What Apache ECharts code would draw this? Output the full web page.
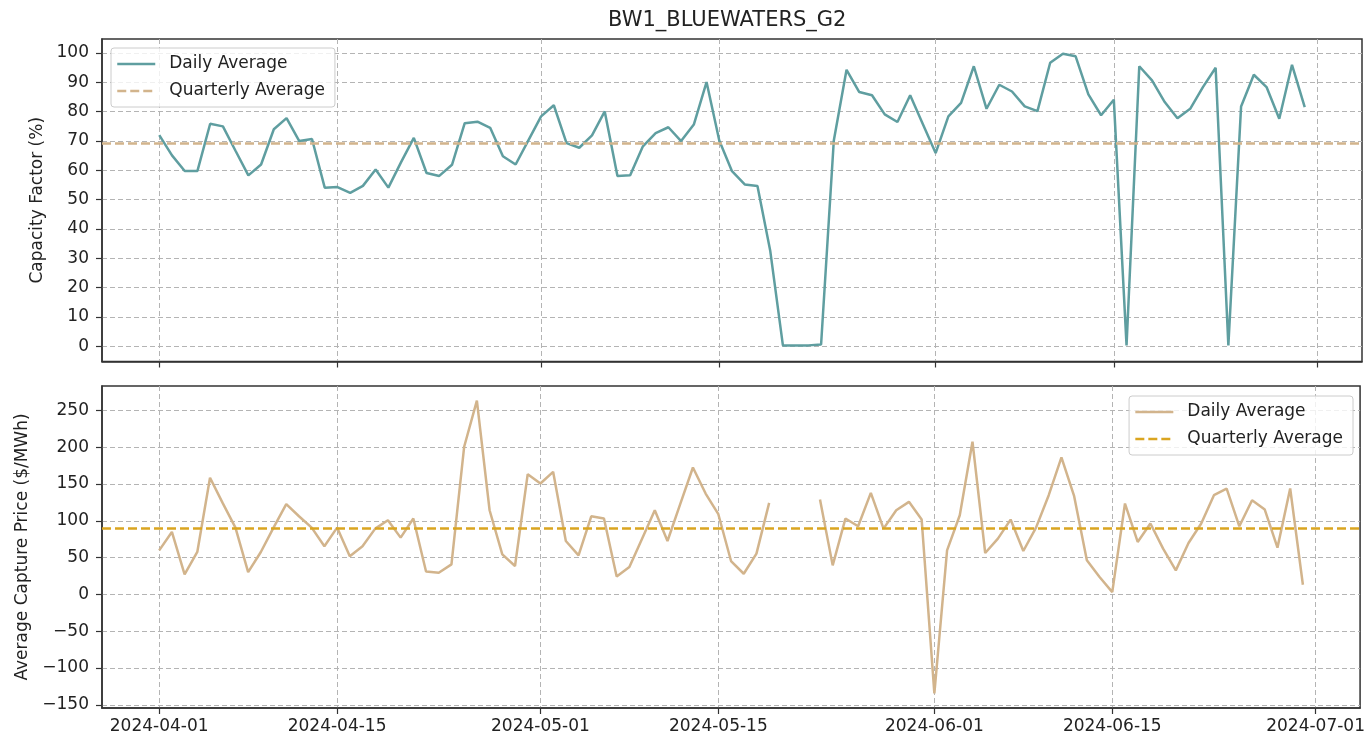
<!DOCTYPE html>
<html>
<head>
<meta charset="utf-8">
<title>BW1_BLUEWATERS_G2</title>
<script src="https://cdn.jsdelivr.net/npm/echarts@6/dist/echarts.min.js"></script>
<style>
    html, body { margin: 0; padding: 0; background: #ffffff; }
    #chart { width: 1368px; height: 738px; }
</style>
</head>
<body>
<div id="chart"></div>
<script>
// daily values, one per day starting at startDate
var startDate = '2024-04-01';
var dayCount = 91;

var capacityDaily = [
    72.0, 65.1, 59.8, 59.8, 75.9, 75.0, 66.6, 58.3, 62.0, 74.0,
    77.8, 70.0, 70.7, 54.1, 54.3, 52.3, 54.7, 60.3, 54.1, 62.8,
    71.1, 59.1, 58.1, 61.9, 76.1, 76.6, 74.5, 64.8, 62.0, 70.2,
    78.4, 82.2, 69.3, 67.7, 71.9, 80.1, 58.1, 58.3, 68.2, 72.7,
    74.7, 70.0, 75.6, 90.1, 70.2, 59.7, 55.2, 54.7, 32.7, 0.3,
    0.3, 0.3, 0.6, 70.2, 94.3, 86.7, 85.6, 79.1, 76.5, 85.6,
    75.7, 65.9, 78.4, 83.0, 95.5, 81.0, 89.2, 86.9, 81.8, 80.2,
    96.7, 99.8, 98.9, 85.9, 78.8, 84.1, 0.3, 95.5, 90.7, 83.3,
    77.8, 81.0, 88.4, 95.0, 0.3, 81.8, 92.6, 88.4, 77.6, 96.0,
    81.6
];
var capacityQuarterly = 69.3;

var priceDaily = [
    59.9, 84.9, 27.2, 57.7, 158.5, 124.0, 90.8, 30.4, 57.7, 90.8,
    122.6, 106.2, 90.8, 65.4, 90.8, 51.8, 65.4, 89.4, 100.8, 77.2,
    103.1, 31.1, 29.5, 40.9, 200.7, 263.3, 114.4, 54.5, 38.6, 163.4,
    150.7, 166.6, 72.6, 53.1, 106.2, 103.1, 24.5, 37.2, 75.8, 114.4,
    72.6, 122.6, 172.5, 137.1, 109.0, 45.4, 28.1, 55.4, 124.4, null,
    null, null, 128.9, 39.5, 103.1, 92.6, 138.0, 89.4, 114.4, 125.8,
    101.7, -134.4, 59.9, 107.6, 207.5, 56.3, 75.8, 101.7, 59.0, 90.8,
    134.8, 186.2, 133.5, 46.3, 23.6, 3.2, 123.5, 71.3, 96.3, 62.2,
    32.7, 69.9, 96.3, 134.8, 143.9, 92.6, 128.0, 115.3, 63.6, 143.9,
    13.2
];
var priceQuarterly = 89.4;

var dateTicks = ['2024-04-01', '2024-04-15', '2024-05-01', '2024-05-15', '2024-06-01', '2024-06-15', '2024-07-01'];
var capacityTicks = [0, 10, 20, 30, 40, 50, 60, 70, 80, 90, 100];
var priceTicks = [-150, -100, -50, 0, 50, 100, 150, 200, 250];

var legendNames = {
    capDaily: 'Daily Average',
    capQuarterly: 'Quarterly Average',
    priceDaily: 'Daily Average',
    priceQuarterly: 'Quarterly Average'
};

(function () {
    'use strict';

    var FONT = 'DejaVu Sans';
    var TEXT = '#222222';
    var DAY = 86400000;

    // x is kept as a UTC timestamp on a plain value axis
    var toTime = function (d) {
        return Date.parse(d + 'T00:00:00Z');
    };

    var times = [];
    for (var i = 0; i < dayCount; i++) {
        times.push(toTime(startDate) + i * DAY);
    }

    var xMin = times[0] - 4.5 * DAY;
    var xMax = times[times.length - 1] + 4.5 * DAY;
    var xTickValues = dateTicks.map(toTime);

    var pairs = function (values) {
        return times.map(function (t, i) {
            return [t, values[i] === null ? '-' : values[i]];
        });
    };

    var gridLine = {
        show: true,
        lineStyle: { color: '#b4b4b4', width: 1, type: [5, 3] }
    };

    var makeXAxis = function (gridIndex, showLabels) {
        return {
            type: 'value',
            gridIndex: gridIndex,
            min: xMin,
            max: xMax,
            axisLine: { show: true, onZero: false, lineStyle: { color: '#333333', width: 1.5 } },
            axisTick: { show: true, inside: false, length: 6, customValues: xTickValues, lineStyle: { color: '#333333', width: 1.2 } },
            axisLabel: {
                show: showLabels,
                customValues: xTickValues,
                margin: 10,
                fontFamily: FONT,
                fontSize: 17,
                color: TEXT,
                formatter: function (value) {
                    return new Date(value).toISOString().slice(0, 10);
                }
            },
            splitLine: gridLine
        };
    };

    var makeYAxis = function (gridIndex, name, nameGap, min, max, ticks) {
        return {
            type: 'value',
            gridIndex: gridIndex,
            min: min,
            max: max,
            name: name,
            nameLocation: 'middle',
            nameRotate: 90,
            nameGap: nameGap,
            nameTextStyle: { fontFamily: FONT, fontSize: 17, color: TEXT },
            axisLine: { show: true, onZero: false, lineStyle: { color: '#333333', width: 1.5 } },
            axisTick: { show: true, inside: false, length: 6, customValues: ticks, lineStyle: { color: '#333333', width: 1.2 } },
            axisLabel: {
                customValues: ticks,
                margin: 13,
                fontFamily: FONT,
                fontSize: 17,
                color: TEXT,
                formatter: function (value) {
                    return value < 0 ? '\u2212' + (-value) : String(value);
                }
            },
            splitLine: gridLine
        };
    };

    var makeLegend = function (names, pos) {
        var legend = {
            data: names,
            formatter: function (name) {
                return legendNames[name];
            },
            orient: 'vertical',
            itemWidth: 38,
            itemHeight: 14,
            itemGap: 7,
            padding: [6, 10, 6, 5],
            backgroundColor: 'rgba(255,255,255,0.8)',
            borderColor: '#cccccc',
            borderWidth: 1,
            borderRadius: 3,
            selectedMode: false,
            itemStyle: { opacity: 0 },
            lineStyle: { width: 2.5 },
            textStyle: { fontFamily: FONT, fontSize: 17, color: TEXT, lineHeight: 20, padding: [0, 0, 0, 9] }
        };
        return echarts.util.extend(legend, pos);
    };

    var dailySeries = function (name, idx, color, values) {
        return {
            name: name,
            type: 'line',
            xAxisIndex: idx,
            yAxisIndex: idx,
            data: pairs(values),
            symbol: 'none',
            connectNulls: false,
            color: color,
            lineStyle: { color: color, width: 2.5 },
            z: 3
        };
    };

    var averageSeries = function (name, idx, color, value) {
        var style = { color: color, width: 2.5, type: [9, 4] };
        return {
            name: name,
            type: 'line',
            xAxisIndex: idx,
            yAxisIndex: idx,
            data: [],
            symbol: 'none',
            color: color,
            lineStyle: style,
            markLine: {
                silent: true,
                symbol: 'none',
                label: { show: false },
                lineStyle: style,
                data: [{ yAxis: value }]
            },
            z: 4
        };
    };

    var chart = echarts.init(document.getElementById('chart'), null, { renderer: 'canvas' });

    chart.setOption({
        animation: false,
        backgroundColor: '#ffffff',
        textStyle: { fontFamily: FONT },
        title: {
            text: 'BW1_BLUEWATERS_G2',
            left: 608,
            top: 10,
            padding: 0,
            textStyle: { fontFamily: FONT, fontSize: 21, fontWeight: 'normal', color: TEXT }
        },
        grid: [
            { left: 102, right: 6, top: 39, height: 322.5, show: true, borderColor: '#333333', borderWidth: 1.5, backgroundColor: 'transparent' },
            { left: 102, right: 6, top: 386, height: 322, show: true, borderColor: '#333333', borderWidth: 1.5, backgroundColor: 'transparent' }
        ],
        xAxis: [makeXAxis(0, false), makeXAxis(1, true)],
        yAxis: [
            makeYAxis(0, 'Capacity Factor (%)', 55, -5.2, 104.8, capacityTicks),
            makeYAxis(1, 'Average Capture Price ($/MWh)', 71, -154.3, 283.2, priceTicks)
        ],
        legend: [
            makeLegend(['capDaily', 'capQuarterly'], { left: 111, top: 48 }),
            makeLegend(['priceDaily', 'priceQuarterly'], { right: 15, top: 396 })
        ],
        series: [
            dailySeries('capDaily', 0, '#5f9ea0', capacityDaily),
            averageSeries('capQuarterly', 0, '#d2b48c', capacityQuarterly),
            dailySeries('priceDaily', 1, '#d2b48c', priceDaily),
            averageSeries('priceQuarterly', 1, '#daa520', priceQuarterly)
        ]
    });

    window.addEventListener('resize', function () {
        chart.resize();
    });
}());
</script>
</body>
</html>
